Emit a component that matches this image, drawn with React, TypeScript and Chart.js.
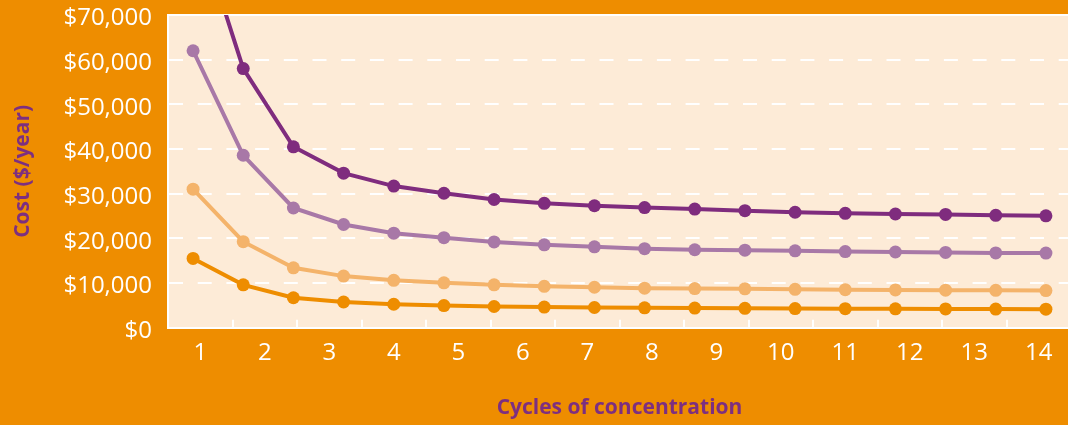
import React, { useEffect, useRef } from "react";
import { Chart, registerables } from "chart.js";

Chart.register(...registerables);

// ---- data ----
const pointLabels = ["1", "2", "3", "4", "5", "6", "7", "8", "9", "10", "11", "12", "13", "14", "15", "16", "17", "18"];
const xTickLabels = ["1", "2", "3", "4", "5", "6", "7", "8", "9", "10", "11", "12", "13", "14"];

const seriesDarkPurple = [93000, 58000, 40500, 34600, 31700, 30100, 28700, 27850, 27300, 26900, 26550, 26200, 25850, 25600, 25450, 25350, 25150, 25050];
const seriesLightPurple = [62000, 38600, 26800, 23100, 21150, 20150, 19200, 18550, 18100, 17700, 17450, 17350, 17200, 17050, 16950, 16850, 16750, 16700];
const seriesLightOrange = [31000, 19250, 13400, 11550, 10600, 10050, 9600, 9270, 9050, 8850, 8750, 8700, 8600, 8520, 8450, 8400, 8370, 8320];
const seriesOrange = [15500, 9600, 6700, 5750, 5250, 4950, 4750, 4620, 4520, 4450, 4400, 4340, 4290, 4260, 4220, 4200, 4170, 4150];

const yMin = 0;
const yMax = 70000;
const yStep = 10000;

const xTitle = "Cycles of concentration";
const yTitle = "Cost ($/year)";

// ---- styles ----
const ORANGE = "#EE8D00";
const PLOT_BG = "#FDEBD7";
const WHITE = "#FFFFFF";
const DARK_PURPLE = "#7F2C7E";
const LIGHT_PURPLE = "#A878A7";
const LIGHT_ORANGE = "#F4B36A";
const TITLE_PURPLE = "#7D2F80";
const FONT = "'Open Sans', 'Noto Sans', sans-serif";

const plotBgPlugin = {
  id: "plotBg",
  beforeDraw(chart: any) {
    const { ctx, chartArea } = chart;
    if (!chartArea) return;
    ctx.save();
    ctx.fillStyle = PLOT_BG;
    ctx.fillRect(chartArea.left, chartArea.top, chartArea.right - chartArea.left, chartArea.bottom - chartArea.top);
    ctx.restore();
  },
};

function makeDataset(label: string, data: number[], color: string) {
  return {
    label,
    data,
    xAxisID: "xp",
    yAxisID: "y",
    borderColor: color,
    backgroundColor: color,
    pointBackgroundColor: color,
    pointBorderColor: color,
    borderWidth: 4,
    pointRadius: 6.5,
    pointBorderWidth: 0,
    tension: 0,
    fill: false,
    clip: { left: 12, top: 0, right: 12, bottom: 12 },
  };
}

function noPad(s: any) {
  s.paddingTop = 0;
  s.paddingBottom = 0;
  s.paddingLeft = 0;
  s.paddingRight = 0;
}

export default function App() {
  const ref = useRef<HTMLCanvasElement>(null);

  useEffect(() => {
    document.body.style.margin = "0";
    document.body.style.background = ORANGE;
    const canvas = ref.current;
    if (!canvas) return;
    const chart = new Chart(canvas, {
      type: "line",
      data: {
        labels: pointLabels,
        datasets: [
          makeDataset("Series 4", seriesOrange, ORANGE),
          makeDataset("Series 3", seriesLightOrange, LIGHT_ORANGE),
          makeDataset("Series 2", seriesLightPurple, LIGHT_PURPLE),
          makeDataset("Series 1", seriesDarkPurple, DARK_PURPLE),
        ],
      },
      options: {
        animation: false,
        responsive: false,
        devicePixelRatio: 1,
        layout: { autoPadding: false, padding: { top: 15, right: 0, bottom: 0, left: 0 } },
        plugins: {
          legend: { display: false },
          tooltip: { enabled: false },
        },
        scales: {
          xp: {
            type: "category",
            position: "bottom",
            display: false,
            offset: true,
            afterFit: noPad,
          },
          x: {
            type: "category",
            position: "bottom",
            labels: xTickLabels,
            offset: true,
            bounds: "ticks",
            grid: {
              offset: true,
              drawOnChartArea: false,
              drawTicks: true,
              tickLength: -8,
              color: WHITE,
              lineWidth: 2,
              tickColor: WHITE,
              tickWidth: 2,
            },
            border: { display: true, color: WHITE, width: 2 },
            ticks: {
              color: WHITE,
              font: { family: FONT, size: 24 },
              padding: 19,
              autoSkip: false,
              maxRotation: 0,
            },
            title: {
              display: true,
              text: xTitle,
              color: TITLE_PURPLE,
              font: { family: FONT, size: 21, weight: "bold" },
              padding: { top: 0, bottom: 4 },
            },
            afterFit: (s: any) => {
              noPad(s);
              s.height = 97.3;
            },
          },
          y: {
            type: "linear",
            position: "left",
            min: yMin,
            max: yMax,
            ticks: {
              stepSize: yStep,
              color: WHITE,
              font: { family: FONT, size: 24 },
              padding: 16,
              labelOffset: 3.5,
              callback: (v: any) => "$" + Number(v).toLocaleString("en-US"),
            },
            grid: {
              color: WHITE,
              lineWidth: 2,
              drawTicks: false,
            },
            border: {
              display: true,
              color: WHITE,
              width: 2,
              dash: (ctx: any) => (ctx.tick && ctx.tick.value === yMax ? [] : [14, 14.7]),
            },
            title: {
              display: true,
              text: yTitle,
              color: TITLE_PURPLE,
              font: { family: FONT, size: 21, weight: "bold" },
              padding: { top: 10, bottom: 0 },
            },
            afterFit: (s: any) => {
              noPad(s);
              s.width = 168;
            },
          },
        },
      } as any,
      plugins: [plotBgPlugin],
    });
    return () => chart.destroy();
  }, []);

  return (
    <div style={{ width: 1068, height: 425, background: ORANGE, overflow: "hidden" }}>
      <canvas ref={ref} width={1071} height={425} style={{ display: "block" }} />
    </div>
  );
}
